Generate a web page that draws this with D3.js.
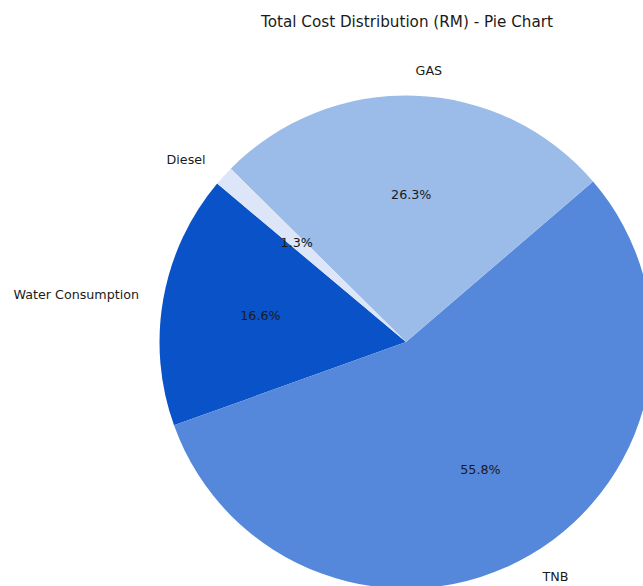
<!DOCTYPE html>
<html>
<head>
<meta charset="utf-8">
<script src="https://cdn.jsdelivr.net/npm/d3@7"></script>
<style>
  html, body { margin: 0; padding: 0; background: #fff; }
  svg { display: block; }
  text { font-family: "DejaVu Sans", sans-serif; fill: #1a1a1a; }
</style>
</head>
<body>
<svg id="chart" width="643" height="586"></svg>
<script>
const categories = ["Water Consumption", "TNB", "GAS", "Diesel"];
const shares = [16.6, 55.8, 26.3, 1.3];
const colors = ["#0a52c8", "#5588db", "#9bbbe9", "#dde6f8"];
const title = "Total Cost Distribution (RM) - Pie Chart";

const W = 643, H = 586;
const cx = 406, cy = 342, R = 246.5;
const startDeg = 140; // matplotlib-style start angle, counterclockwise

const svg = d3.select("#chart");
svg.append("rect").attr("width", W).attr("height", H).attr("fill", "#fff");

svg.append("text")
  .attr("x", 407).attr("y", 27)
  .attr("text-anchor", "middle")
  .style("font-size", "15.2px")
  .text(title);

const data = categories.map((c, i) => ({ name: c, value: shares[i], color: colors[i] }));

const toRad = d => d * Math.PI / 180;
const a0 = toRad(90 - startDeg);
const pie = d3.pie().sort(null).value(d => d.value)
  .startAngle(a0).endAngle(a0 - 2 * Math.PI);
const arcs = pie(data);

const g = svg.append("g").attr("transform", `translate(${cx},${cy})`);
const arc = d3.arc().innerRadius(0).outerRadius(R);

g.selectAll("path.slice").data(arcs).join("path")
  .attr("class", "slice")
  .attr("d", arc)
  .attr("fill", d => d.data.color);

const total = d3.sum(shares);
arcs.forEach(d => {
  const mid = (d.startAngle + d.endAngle) / 2;
  const sx = Math.sin(mid), sy = -Math.cos(mid);
  const lx = sx * R * 1.1, ly = sy * R * 1.1;
  g.append("text")
    .attr("x", lx).attr("y", ly)
    .attr("dy", "0.35em")
    .attr("text-anchor", lx > 0 ? "start" : "end")
    .style("font-size", "12.7px")
    .text(d.data.name);
  g.append("text")
    .attr("x", sx * R * 0.6).attr("y", sy * R * 0.6)
    .attr("dy", "0.35em")
    .attr("text-anchor", "middle")
    .style("font-size", "12.7px")
    .text((d.data.value / total * 100).toFixed(1) + "%");
});
</script>
</body>
</html>
